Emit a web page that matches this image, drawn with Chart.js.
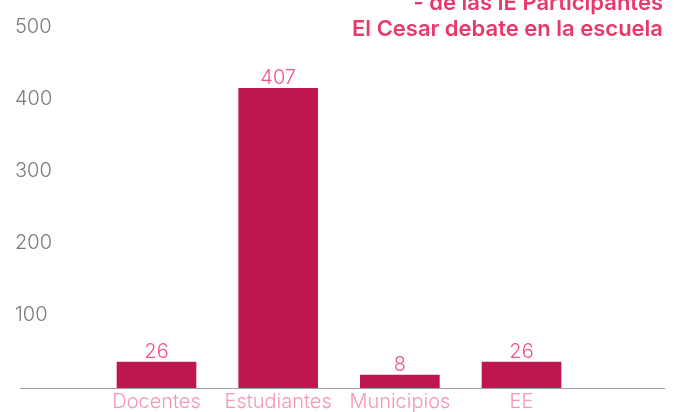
<!DOCTYPE html>
<html>
<head>
<meta charset="utf-8">
<script src="https://cdn.jsdelivr.net/npm/chart.js@4.4.1/dist/chart.umd.min.js"></script>
<style>
  html, body { margin: 0; padding: 0; background: #fff; }
  #wrap { width: 686px; height: 412px; }
</style>
</head>
<body>
<div id="wrap"><canvas id="barChart"></canvas></div>
<script>
// data
const categories = ["Docentes", "Estudiantes", "Municipios", "EE"];
const participantes = [26, 407, 8, 26];
const yTicks = [100, 200, 300, 400, 500];
const titleLines = ["- de las IE Participantes", "El Cesar debate en la escuela"];

const barColor = "#be1650";
const valueColor = "#ef5583";
const catColor = "#f496b4";
const tickColor = "#7a7a7a";
const titleColor = "#e8396b";

// value above each bar
const valueLabels = {
  id: "valueLabels",
  afterDatasetsDraw(chart) {
    const { ctx } = chart;
    const meta = chart.getDatasetMeta(0);
    ctx.save();
    ctx.font = "300 20px Inter";
    ctx.fillStyle = valueColor;
    ctx.textAlign = "center";
    ctx.textBaseline = "alphabetic";
    meta.data.forEach((bar, i) => {
      ctx.fillText(String(participantes[i]), bar.x, bar.y - 4);
    });
    ctx.restore();
  },
};

// title, top right (first line partly outside the canvas)
const cornerTitle = {
  id: "cornerTitle",
  afterDraw(chart) {
    const { ctx, chartArea } = chart;
    ctx.save();
    ctx.font = "600 22px Inter";
    ctx.fillStyle = titleColor;
    ctx.textAlign = "right";
    ctx.textBaseline = "alphabetic";
    titleLines.forEach((line, i) => {
      ctx.fillText(line, chartArea.right - 1, 10 + i * 26);
    });
    ctx.restore();
  },
};

new Chart(document.getElementById("barChart"), {
  type: "bar",
  data: {
    datasets: [
      {
        label: "Participantes",
        data: participantes.map((v, i) => ({ x: i + 1, y: v })),
        backgroundColor: barColor,
        barThickness: 79,
        borderWidth: 0,
        base: -10,
      },
    ],
  },
  plugins: [valueLabels, cornerTitle],
  options: {
    responsive: true,
    maintainAspectRatio: false,
    animation: false,
    layout: { padding: { top: 5, right: 22, left: 0, bottom: 0 } },
    plugins: {
      legend: { display: false },
      tooltip: { enabled: false },
    },
    scales: {
      x: {
        type: "linear",
        offset: false,
        min: -0.122,
        max: 5.171,
        afterBuildTicks: (scale) => {
          scale.ticks = categories.map((_, i) => ({ value: i + 1 }));
        },
        afterFit: (scale) => {
          scale.height = 24;
        },
        ticks: {
          autoSkip: false,
          maxRotation: 0,
          padding: 2,
          color: catColor,
          font: { family: "Inter", size: 20, weight: "300" },
          callback: (v) => categories[v - 1],
        },
        grid: { display: false, drawTicks: false, offset: false },
        border: { color: "#9e9e9e", width: 1 },
      },
      y: {
        min: -10,
        max: 520,
        afterBuildTicks: (scale) => {
          scale.ticks = yTicks.map((v) => ({ value: v }));
        },
        afterFit: (scale) => {
          scale.width = 20;
        },
        ticks: {
          mirror: true,
          padding: -5,
          labelOffset: 6,
          color: tickColor,
          font: { family: "Inter", size: 20, weight: "300" },
        },
        grid: { display: false, drawTicks: false },
        border: { display: false },
      },
    },
  },
});
</script>
</body>
</html>
